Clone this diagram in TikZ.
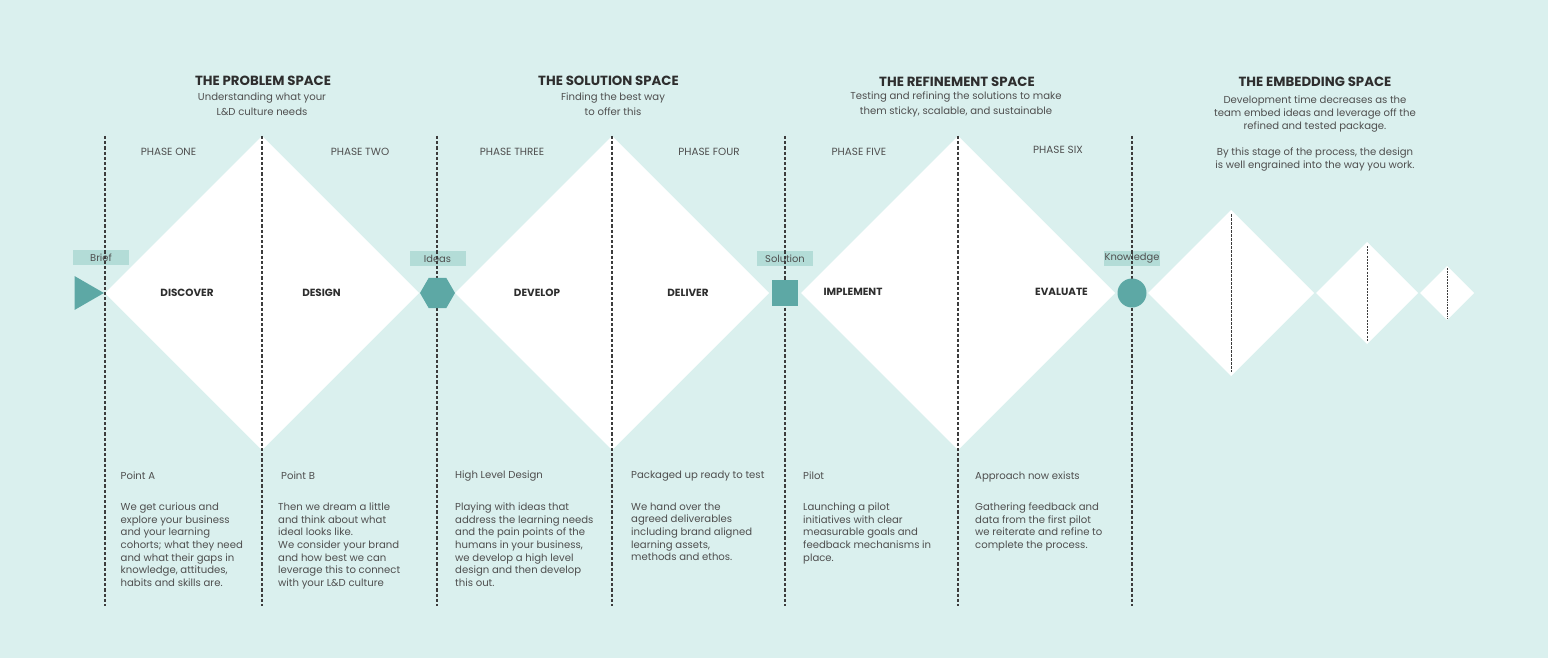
\documentclass[tikz,border=0pt]{standalone}
\usepackage{fontspec}
\setmainfont{Poppins}
\usetikzlibrary{shapes.geometric}
\definecolor{bgteal}{HTML}{DAF0EE}
\definecolor{markteal}{HTML}{5DA8A5}
\definecolor{tagteal}{HTML}{B3DCD7}
\definecolor{inkgray}{HTML}{2E2E2E}
\definecolor{softgray}{HTML}{4F4F4F}
\definecolor{guidegray}{HTML}{3C3C3C}
\begin{document}
\begin{tikzpicture}[x=1pt, y=-1pt,
    spacehead/.style={font=\fontsize{13.3}{15}\selectfont\bfseries, text=inkgray},
    spacesub/.style={font=\fontsize{10.1}{15}\selectfont, text=softgray, align=center},
    phaselabel/.style={font=\fontsize{10.4}{12}\selectfont, text=softgray},
    stagelabel/.style={font=\fontsize{10.4}{12}\selectfont\bfseries, text=inkgray},
    tag/.style={fill=tagteal, minimum width=56pt, minimum height=15pt, inner sep=0pt, font=\fontsize{9.9}{11}\selectfont, text=softgray},
    marker/.style={fill=markteal, inner sep=0pt},
    pointhead/.style={anchor=west, inner sep=0pt, font=\fontsize{10.1}{12.7}\selectfont, text=softgray},
    pointtext/.style={anchor=north west, inner sep=0pt, align=left, font=\fontsize{10.1}{12.67}\selectfont, text=softgray},
    guide/.style={draw=guidegray, line width=1.2pt, dash pattern=on 3.2pt off 2pt}
]
        \fill[bgteal] (0,0) rectangle (1548,658);
        \useasboundingbox (0,0) rectangle (1548,658);

        \foreach \cx/\h in {262/157, 612/157, 958/157, 1231/83, 1367/51, 1447/27}
            \fill[white] (\cx-\h,293) -- (\cx,293-\h) -- (\cx+\h,293) -- (\cx,293+\h) -- cycle;

        \node[tag] (brieftag) at (101,257.5) {Brief};
        \node[tag] (ideastag) at (437.5,258.5) {Ideas};
        \node[tag] (solutiontag) at (785,258.5) {Solution};
        \node[tag] (knowledgetag) at (1132,258.5) {Knowledge};

        \foreach \gx in {105, 262, 437, 612, 785, 958, 1132}
            \draw[guide] (\gx,136) -- (\gx,606);
        \draw[guide, line width=1pt, dash pattern=on 2.5pt off 1.5pt] (1231,214) -- (1231,372);
        \draw[guide, line width=0.8pt, dash pattern=on 2pt off 1.2pt] (1367,246) -- (1367,341);
        \draw[guide, line width=0.7pt, dash pattern=on 1.8pt off 1pt] (1447,268) -- (1447,319);

        \node[marker, regular polygon, regular polygon sides=3, shape border rotate=-90, minimum size=39pt] (briefmark) at (84.4,293) {};
        \node[marker, regular polygon, regular polygon sides=6, minimum size=35pt] (ideasmark) at (437.5,293) {};
        \node[marker, minimum size=26pt] (solutionmark) at (785,293) {};
        \node[marker, circle, minimum size=29pt] (knowledgemark) at (1132,293) {};

        \node[spacehead] (probhead) at (263,81) {THE PROBLEM SPACE};
        \node[spacesub] (probsub) at (262,104.5) {Understanding what your\\L\&D culture needs};
        \node[spacehead] (solhead) at (608.5,81) {THE SOLUTION SPACE};
        \node[spacesub] (solsub) at (613,104.5) {Finding the best way\\to offer this};
        \node[spacehead] (refhead) at (957,82) {THE REFINEMENT SPACE};
        \node[spacesub] (refsub) at (956,104.5) {Testing and refining the solutions to make\\them sticky, scalable, and sustainable};
        \node[spacehead] (embhead) at (1315,82) {THE EMBEDDING SPACE};
        \node[spacesub, font=\fontsize{10.1}{13}\selectfont] (embsub) at (1315,133.5) {Development time decreases as the\\team embed ideas and leverage off the\\refined and tested package.\\[13pt]By this stage of the process, the design\\is well engrained into the way you work.};

        \node[phaselabel] (phaseone) at (168.5,152) {PHASE ONE};
        \node[phaselabel] (phasetwo) at (360,152) {PHASE TWO};
        \node[phaselabel] (phasethree) at (512,152) {PHASE THREE};
        \node[phaselabel] (phasefour) at (709,152) {PHASE FOUR};
        \node[phaselabel] (phasefive) at (859,152) {PHASE FIVE};
        \node[phaselabel] (phasesix) at (1058,150) {PHASE SIX};

        \node[stagelabel] (discover) at (187,293) {DISCOVER};
        \node[stagelabel] (design) at (321.5,293) {DESIGN};
        \node[stagelabel] (develop) at (537,293) {DEVELOP};
        \node[stagelabel] (deliver) at (688,293) {DELIVER};
        \node[stagelabel] (implement) at (853,292) {IMPLEMENT};
        \node[stagelabel] (evaluate) at (1061.5,292) {EVALUATE};

        \node[pointhead] (pointa) at (120.5,476) {Point A};
        \node[pointtext] (pointatext) at (120.5,502.5) {We get curious and\\explore your business\\and your learning\\cohorts; what they need\\and what their gaps in\\knowledge, attitudes,\\habits and skills are.};
        \node[pointhead] (pointb) at (281,476) {Point B};
        \node[pointtext] (pointbtext) at (278,502.5) {Then we dream a little\\and think about what\\ideal looks like.\\We consider your brand\\and how best we can\\leverage this to connect\\with your L\&D culture};
        \node[pointhead] (highlevel) at (455,476) {High Level Design};
        \node[pointtext] (highleveltext) at (455,502.5) {Playing with ideas that\\address the learning needs\\and the pain points of the\\humans in your business,\\we develop a high level\\design and then develop\\this out.};
        \node[pointhead] (packaged) at (631,476) {Packaged up ready to test};
        \node[pointtext] (packagedtext) at (631,502.5) {We hand over the\\agreed deliverables\\including brand aligned\\learning assets,\\methods and ethos.};
        \node[pointhead] (pilot) at (803,476) {Pilot};
        \node[pointtext] (pilottext) at (803,502.5) {Launching a pilot\\initiatives with clear\\measurable goals and\\feedback mechanisms in\\place.};
        \node[pointhead] (approach) at (975,477) {Approach now exists};
        \node[pointtext] (approachtext) at (975,502.5) {Gathering feedback and\\data from the first pilot\\we reiterate and refine to\\complete the process.};
    \end{tikzpicture}
\end{document}
